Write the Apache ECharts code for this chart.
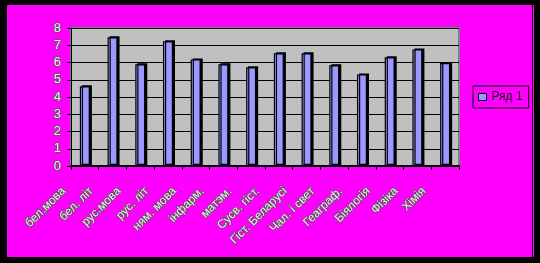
<!DOCTYPE html>
<html>
<head>
<meta charset="utf-8">
<script src="https://cdn.jsdelivr.net/npm/echarts@6/dist/echarts.min.js"></script>
<style>
html,body{margin:0;padding:0;background:#000;width:540px;height:263px;overflow:hidden;}
#bg{position:absolute;left:7px;top:5px;width:525px;height:252px;background:#FF00FF;}
#bg2{position:absolute;left:533px;top:5px;width:1px;height:252px;background:#FF00FF;}
#chart{position:absolute;left:0;top:0;width:540px;height:263px;}
</style>
</head>
<body>
<div id="bg"></div><div id="bg2"></div>
<div id="chart"></div>
<script>
const categories = ['бел.мова','бел. літ','рус.мова','рус. літ','ням. мова','інфарм.','матэм.','Сусв. гіст.','Гіст. Беларусі','Чал. і свет','Геаграф.','Біялогія','Фізіка','Хімія'];
const values = [4.62, 7.46, 5.9, 7.23, 6.18, 5.9, 5.72, 6.53, 6.53, 5.84, 5.31, 6.3, 6.76, 5.97];
const seriesName = 'Ряд 1';
const yTicks = {min: 0, max: 8, interval: 1};

const chart = echarts.init(document.getElementById('chart'), null, {renderer: 'canvas'});
const outlined = {
  color: '#f4f4f4',
  textBorderColor: '#555',
  textBorderWidth: 1.5,
  fontFamily: 'Liberation Sans, Arial, sans-serif'
};
chart.setOption({
  animation: false,
  backgroundColor: 'transparent',
  grid: {
    left: 71, top: 28, right: 81, bottom: 97,
    show: true, backgroundColor: '#C0C0C0', borderColor: '#808080', borderWidth: 2
  },
  legend: {
    left: 473, top: 86,
    padding: [5, 6, 5, 5],
    borderColor: '#000', borderWidth: 1,
    itemWidth: 8, itemHeight: 7, itemGap: 5,
    textStyle: {color: '#111', fontSize: 12, fontFamily: 'Liberation Sans, Arial, sans-serif'},
    data: [{name: seriesName, icon: 'rect', itemStyle: {color: '#9999FF', borderColor: '#000', borderWidth: 1, shadowBlur: 0, shadowOffsetX: 0, shadowOffsetY: 0}}]
  },
  xAxis: {
    type: 'category',
    data: categories,
    boundaryGap: true,
    axisLine: {show: true, lineStyle: {color: '#000', width: 2}},
    axisTick: {show: true, inside: false, length: 4, lineStyle: {color: '#000', width: 1}},
    axisLabel: Object.assign({
      interval: 0, rotate: 45, fontSize: 12, margin: 2,
      padding: [0, 30, 0, 0]
    }, outlined)
  },
  yAxis: {
    type: 'value',
    min: yTicks.min, max: yTicks.max, interval: yTicks.interval,
    axisLine: {show: true, lineStyle: {color: '#000', width: 1}},
    axisTick: {show: true, inside: false, length: 4, lineStyle: {color: '#000'}},
    splitLine: {show: true, lineStyle: {color: '#000', width: 1}},
    axisLabel: Object.assign({fontSize: 13, margin: 10}, outlined)
  },
  series: [{
    name: seriesName,
    type: 'bar',
    data: values,
    barWidth: 10,
    itemStyle: {
      color: '#9999FF', borderColor: '#000', borderWidth: 1.2,
      shadowColor: '#000', shadowBlur: 0, shadowOffsetX: 2, shadowOffsetY: -1
    }
  }]
});
</script>
</body>
</html>
